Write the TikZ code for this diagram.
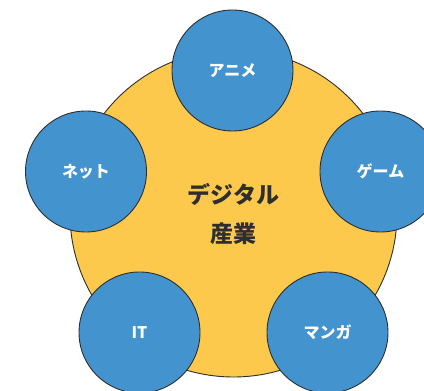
\documentclass[tikz,border=0pt]{standalone}
\usepackage{fontspec}
\newfontfamily\cjk{Noto Sans CJK JP}
\definecolor{hubyellow}{HTML}{FDC94C}
\definecolor{spokeblue}{HTML}{4393CF}
\definecolor{rimgray}{HTML}{2E2E2E}
\newcommand{\spokesize}{121pt}

\begin{document}
\begin{tikzpicture}[x=1pt, y=1pt]
  \tikzset{hub/.style={circle, draw=rimgray, line width=0.9pt, fill=hubyellow, minimum size=327pt, inner sep=0pt}}
  \tikzset{spoke/.style={circle, draw=rimgray, line width=0.9pt, fill=spokeblue, minimum size=\spokesize, inner sep=0pt, text=white, font=\cjk\bfseries\fontsize{16}{19}\selectfont}}
  \useasboundingbox (0,0) rectangle (424,391);
  \node[hub] (industry) at (233.5, 177.5) {};
  \node[spoke] (anime) at (232.5, 320.5) {アニメ};
  \node[spoke] (net) at (86, 219.5) {ネット};
  \node[spoke] (game) at (380.5, 219.5) {ゲーム};
  \node[spoke] (it) at (139.5, 58.5) {IT};
  \node[spoke] (manga) at (327.5, 58.5) {マンガ};
  \node[align=center, text=rimgray, font=\cjk\bfseries\fontsize{23}{39}\selectfont] (title) at (industry.center) {デジタル\\産業};
\end{tikzpicture}
\end{document}
